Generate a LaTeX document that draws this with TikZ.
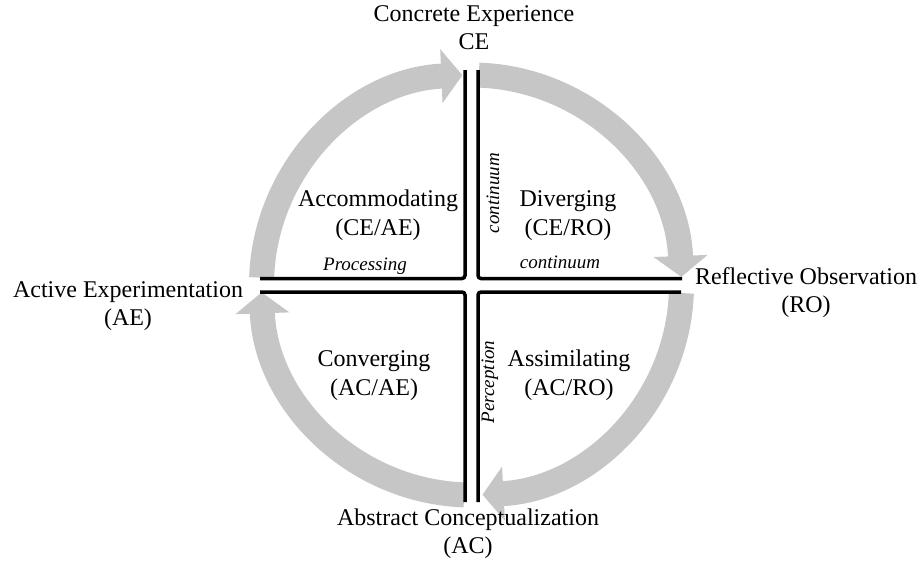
\documentclass[tikz,border=0pt]{standalone}
\usepackage{fontspec}
\setmainfont{Liberation Serif}
\usetikzlibrary{arrows.meta}
\definecolor{ringgray}{RGB}{198,198,198}
\tikzset{
  ring/.style={draw=ringgray, line width=25pt, line cap=butt,
    -{Triangle[width=53pt,length=21pt]}},
  axisline/.style={draw=black, line width=3.5pt, rounded corners=3pt, line cap=butt},
  stage/.style={align=center, font=\fontsize{24}{28}\selectfont, inner sep=0pt, anchor=base},
  quad/.style={align=center, font=\fontsize{24}{28.5}\selectfont, inner sep=0pt, anchor=base},
  dimlabel/.style={font=\fontsize{19}{22}\selectfont\itshape, inner sep=0pt, anchor=base}
}
\begin{document}
\begin{tikzpicture}[x=1pt,y=-1pt]
\useasboundingbox (0,0) rectangle (920,565);
\coordinate (c) at (471.5,285);
% gray cycle arrows
\draw[ring] ([shift={(182:210)}]c) arc[start angle=182, end angle=267.5, radius=210];
\draw[ring] ([shift={(272:210)}]c) arc[start angle=272, end angle=357.8, radius=210];
\draw[ring] ([shift={(2.2:210)}]c) arc[start angle=2.2, end angle=87, radius=210];
\draw[ring] ([shift={(92:210)}]c) arc[start angle=92, end angle=178, radius=210];
% axis lines
\draw[axisline] (465,70) -- (465,278.5) -- (260,278.5);
\draw[axisline] (478,70) -- (478,278.5) -- (682,278.5);
\draw[axisline] (260,292) -- (465,292) -- (465,502);
\draw[axisline] (478,502) -- (478,292) -- (681,292);
% stage labels (anchor = baseline of last line)
\node[stage] (ce) at (474,49) {Concrete Experience\\CE};
\node[stage] (ro) at (806,312) {Reflective Observation\\(RO)};
\node[stage] (ac) at (468,553) {Abstract Conceptualization\\(AC)};
\node[stage] (ae) at (128,325) {Active Experimentation\\(AE)};
% quadrant labels
\node[quad] (acc) at (378,235) {Accommodating\\(CE/AE)};
\node[quad] (div) at (568,235) {Diverging\\(CE/RO)};
\node[quad] (con) at (374,395) {Converging\\(AC/AE)};
\node[quad] (ass) at (569,395) {Assimilating\\(AC/RO)};
% dimension labels
\node[dimlabel] (proc) at (365,270) {Processing};
\node[dimlabel] (cont1) at (560,268) {continuum};
\node[dimlabel, rotate=90] (cont2) at (499,193) {continuum};
\node[dimlabel, rotate=90] (perc) at (494,382) {Perception};
\end{tikzpicture}
\end{document}
